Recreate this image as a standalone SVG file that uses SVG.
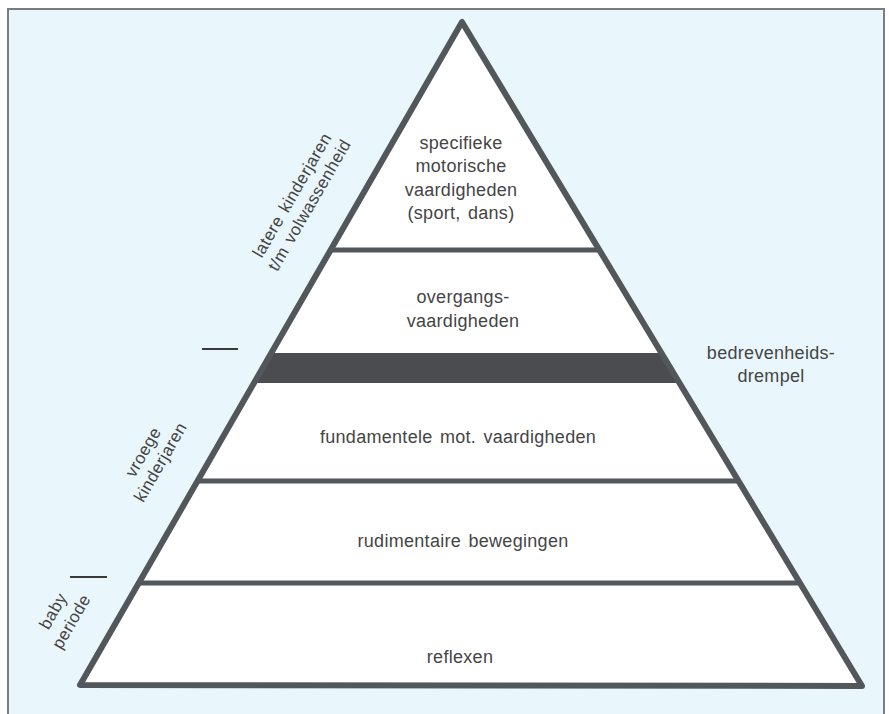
<svg xmlns="http://www.w3.org/2000/svg" width="889" height="714" viewBox="0 0 889 714">
<defs>
<style>
.t{font-family:"Liberation Sans",Arial,sans-serif;font-size:18px;fill:#454545;text-anchor:middle;letter-spacing:0.3px;word-spacing:2px}
.s{font-family:"Liberation Sans",Arial,sans-serif;font-size:17px;fill:#454545;text-anchor:middle;letter-spacing:0.4px;word-spacing:2px}
.div{stroke:#52575c;stroke-width:5;fill:none}
.tick{stroke:#3a3a3a;stroke-width:2}
</style>
</defs>
<rect x="0" y="0" width="889" height="714" fill="#ffffff"/>
<rect x="8" y="9" width="876" height="720" fill="#e9f6fb" stroke="#7a7d80" stroke-width="2"/>
<g id="pyramid">
<polygon points="462,22 80,685 862,686" fill="#ffffff"/>
<polygon id="threshold-band" points="271,353 661,353 679,383 254,383" fill="#4a4c4f"/>
<line class="div" x1="330" y1="250" x2="600" y2="250"/>
<line class="div" x1="196" y1="481" x2="738" y2="481"/>
<line class="div" x1="138" y1="583" x2="800" y2="583"/>
<polygon points="462,22 80,685 862,686" fill="none" stroke="#52575c" stroke-width="6" stroke-linejoin="round"/>
</g>
<g id="level-specific">
<text class="t" x="461" y="149">specifieke</text>
<text class="t" x="461" y="172">motorische</text>
<text class="t" x="461" y="196">vaardigheden</text>
<text class="t" x="461" y="219">(sport, dans)</text>
</g>
<g id="level-transition">
<text class="t" x="463" y="303">overgangs-</text>
<text class="t" x="463" y="327">vaardigheden</text>
</g>
<g id="threshold-label">
<text class="t" x="771" y="359">bedrevenheids-</text>
<text class="t" x="771" y="382">drempel</text>
</g>
<g id="level-fundamental">
<text class="t" x="458" y="443">fundamentele mot. vaardigheden</text>
</g>
<g id="level-rudimentary">
<text class="t" x="463" y="547">rudimentaire bewegingen</text>
</g>
<g id="level-reflexes">
<text class="t" x="460" y="663">reflexen</text>
</g>
<g id="period-later" transform="translate(297,198) rotate(-60)">
<text class="s" x="0" y="0">latere kinderjaren</text>
<text class="s" x="0" y="20">t/m volwassenheid</text>
</g>
<g id="period-early" transform="translate(148,455) rotate(-60)">
<text class="s" x="0" y="0">vroege</text>
<text class="s" x="0" y="20">kinderjaren</text>
</g>
<g id="period-baby" transform="translate(58,614) rotate(-60)">
<text class="s" x="0" y="0">baby</text>
<text class="s" x="0" y="21">periode</text>
</g>
<g id="connectors">
<line class="tick" x1="202" y1="349" x2="238" y2="349"/>
<line class="tick" x1="70" y1="577" x2="107" y2="577"/>
</g>
</svg>
